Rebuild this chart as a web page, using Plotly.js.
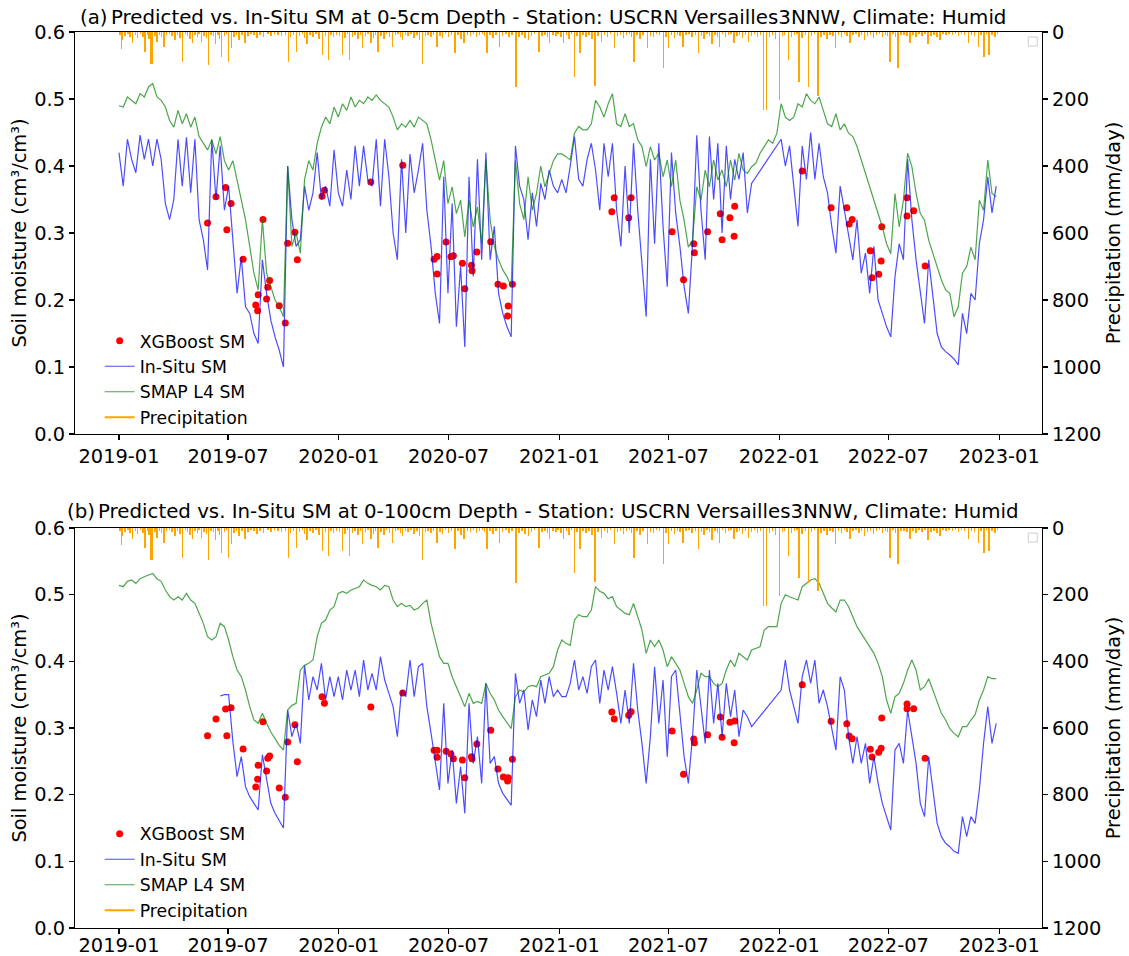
<!DOCTYPE html>
<html>
<head>
<meta charset="utf-8">
<script src="https://cdn.plot.ly/plotly-3.0.1.min.js"></script>
<style>html,body{margin:0;padding:0;background:#fff;}#chart{width:1129px;height:956px;}</style>
</head>
<body>
<div id="chart"></div>
<script>
// ---------- DATA ----------
// weekly samples starting 2019-01-01 (index i -> 2019-01-01 + 7*i days)
const startDate = '2019-01-01';
const stepDays = 7;

const topInSitu = [
0.42,0.37,0.44,0.41,0.39,0.446,0.41,0.44,0.40,0.44,
0.41,0.344,0.32,0.35,0.44,0.37,0.443,0.36,0.44,0.32,
0.29,0.245,0.44,0.35,0.43,0.334,0.37,0.284,0.21,0.264,
0.19,0.18,0.15,0.135,0.26,0.21,0.17,0.145,0.125,0.10,
0.40,0.32,0.28,0.29,0.37,0.334,0.36,0.42,0.35,0.37,
0.34,0.424,0.36,0.34,0.394,0.35,0.43,0.37,0.43,0.379,
0.37,0.44,0.34,0.44,0.384,0.30,0.26,0.41,0.30,0.418,
0.36,0.394,0.434,0.334,0.28,0.21,0.165,0.384,0.21,0.344,
0.16,0.25,0.13,0.384,0.235,0.41,0.26,0.42,0.26,0.31,
0.21,0.18,0.16,0.145,0.43,0.37,0.35,0.29,0.36,0.31,
0.374,0.35,0.394,0.37,0.36,0.38,0.36,0.40,0.444,0.38,
0.37,0.41,0.434,0.394,0.334,0.434,0.384,0.434,0.334,0.28,
0.40,0.30,0.434,0.334,0.26,0.175,0.41,0.284,0.434,0.31,
0.22,0.42,0.33,0.28,0.22,0.18,0.284,0.446,0.334,0.26,
0.444,0.35,0.434,0.30,0.43,0.35,0.41,0.38,0.42,0.33,
0.374,null,null,null,null,null,null,0.44,0.40,0.43,
0.37,0.31,0.43,0.38,0.45,0.38,0.434,0.384,0.36,0.31,
0.27,0.37,0.334,0.30,0.26,0.32,0.24,0.27,0.21,0.28,
0.20,0.18,0.16,0.145,0.235,0.284,0.26,0.41,0.32,0.26,
0.21,0.165,0.26,0.20,0.15,0.13,0.123,0.118,0.112,0.103,
0.18,0.15,0.21,0.20,0.284,0.32,0.384,0.33,0.37
];

const topSMAP = [
0.49,0.488,0.503,0.498,0.493,0.508,0.503,0.518,0.523,0.503,
0.498,0.488,0.468,0.458,0.483,0.463,0.478,0.458,0.473,0.444,
0.434,0.424,0.439,0.418,0.444,0.408,0.394,0.408,0.379,0.349,
0.32,0.28,0.24,0.215,0.32,0.24,0.22,0.20,0.19,0.175,
0.40,0.28,0.30,0.27,0.38,0.408,0.394,0.434,0.458,0.473,
0.463,0.488,0.473,0.493,0.483,0.503,0.488,0.498,0.493,0.503,
0.498,0.506,0.498,0.493,0.488,0.473,0.454,0.463,0.458,0.468,
0.458,0.473,0.468,0.463,0.439,0.408,0.379,0.408,0.344,0.369,
0.329,0.349,0.294,0.349,0.309,0.339,0.284,0.408,0.32,0.28,
0.26,0.245,0.235,0.22,0.408,0.344,0.32,0.384,0.334,0.359,
0.40,0.369,0.389,0.408,0.418,0.418,0.414,0.409,0.449,0.459,
0.454,0.454,0.463,0.498,0.488,0.473,0.493,0.508,0.463,0.459,
0.478,0.459,0.463,0.439,0.429,0.399,0.429,0.409,0.419,0.384,
0.409,0.369,0.409,0.349,0.319,0.279,0.289,0.369,0.349,0.394,
0.369,0.409,0.379,0.394,0.369,0.409,0.379,0.419,0.394,0.389,
0.399,0.404,0.419,0.429,0.439,0.434,0.449,0.493,0.473,0.468,
0.473,0.493,0.488,0.508,0.498,0.493,0.503,0.483,0.463,0.459,
0.478,0.454,0.463,0.449,0.444,0.429,0.409,0.389,0.369,0.349,
0.329,0.309,0.284,0.269,0.359,0.309,0.349,0.419,0.399,0.359,
0.329,0.319,0.289,0.269,0.25,0.23,0.215,0.21,0.175,0.19,
0.24,0.25,0.279,0.26,0.349,0.334,0.409,0.359,0.354
];

const bottomInSitu = [
null,null,null,null,null,null,null,null,null,null,
null,null,null,null,null,null,null,null,null,null,
null,null,null,null,0.348,0.35,0.35,0.28,0.227,0.257,
0.212,0.197,0.187,0.177,0.26,0.222,0.187,0.172,0.162,0.15,
0.327,0.287,0.307,0.277,0.394,0.342,0.377,0.357,0.397,0.342,
0.377,0.347,0.377,0.342,0.387,0.357,0.387,0.347,0.402,0.357,
0.382,0.357,0.407,0.372,0.352,0.332,0.287,0.357,0.347,0.402,
0.347,0.392,0.397,0.332,0.292,0.247,0.207,0.337,0.217,0.267,
0.187,0.242,0.172,0.337,0.247,0.287,0.217,0.367,0.247,0.257,
0.217,0.202,0.192,0.184,0.382,0.337,0.357,0.297,0.342,0.317,
0.372,0.337,0.377,0.347,0.357,0.347,0.347,0.367,0.402,0.357,
0.377,0.352,0.392,0.402,0.337,0.387,0.357,0.392,0.352,0.307,
0.357,0.307,0.397,0.327,0.277,0.217,0.287,0.392,0.307,0.372,
0.257,0.377,0.387,0.327,0.257,0.217,0.287,0.387,0.327,0.277,
0.387,0.307,0.367,0.287,0.367,0.317,0.357,0.287,0.327,0.317,
0.302,null,null,null,null,null,null,0.357,0.402,0.357,
0.332,0.307,0.377,0.402,0.367,0.402,0.337,0.357,0.332,0.297,
0.267,0.377,0.357,0.287,0.247,0.287,0.247,0.277,0.217,0.257,
0.217,0.187,0.167,0.147,0.267,0.277,0.247,0.327,0.287,0.247,
0.187,0.167,0.257,0.207,0.157,0.137,0.127,0.122,0.115,0.112,
0.167,0.137,0.167,0.157,0.207,0.277,0.332,0.277,0.307
];

const bottomSMAP = [
0.514,0.512,0.52,0.522,0.517,0.524,0.527,0.53,0.532,0.524,
0.52,0.507,0.497,0.492,0.497,0.492,0.502,0.492,0.487,0.472,
0.457,0.437,0.432,0.437,0.457,0.452,0.432,0.407,0.387,0.377,
0.357,0.332,0.312,0.307,0.322,0.307,0.294,0.284,0.274,0.267,
0.327,0.334,0.337,0.387,0.394,0.397,0.402,0.437,0.457,0.462,
0.477,0.482,0.502,0.505,0.502,0.507,0.51,0.512,0.522,0.517,
0.514,0.512,0.507,0.514,0.512,0.492,0.482,0.487,0.482,0.484,
0.477,0.48,0.487,0.492,0.457,0.432,0.407,0.397,0.397,0.377,
0.362,0.347,0.332,0.352,0.337,0.34,0.337,0.367,0.352,0.342,
0.327,0.317,0.307,0.299,0.347,0.357,0.354,0.362,0.364,0.362,
0.377,0.38,0.382,0.392,0.417,0.432,0.427,0.424,0.462,0.47,
0.467,0.467,0.477,0.512,0.505,0.502,0.494,0.497,0.482,0.477,
0.472,0.47,0.487,0.467,0.447,0.412,0.432,0.422,0.432,0.417,
0.392,0.407,0.397,0.387,0.367,0.347,0.337,0.357,0.382,0.377,
0.377,0.367,0.362,0.367,0.387,0.402,0.392,0.412,0.407,0.402,
0.417,0.42,0.422,0.447,0.452,0.452,0.452,0.487,0.5,0.497,
0.494,0.492,0.512,0.517,0.522,0.524,0.517,0.502,0.487,0.48,
0.474,0.492,0.492,0.482,0.467,0.452,0.442,0.432,0.422,0.412,
0.397,0.377,0.342,0.322,0.347,0.352,0.367,0.387,0.402,0.387,
0.357,0.362,0.374,0.357,0.337,0.322,0.312,0.299,0.292,0.287,
0.302,0.302,0.312,0.32,0.342,0.357,0.377,0.374,0.374
];

// XGBoost prediction dates (days after 2019-01-01) and values
const xgbDay = [147,161,177,179,186,206,239,231,227,230,245,247,250,266,276,280,292,296,337,341,
418,471,523,528,528,543,551,555,570,574,585,586,594,617,629,638,646,645,653,
822,818,850,846,918,937,954,955,977,998,1001,1014,1021,1022,1134,1182,1208,1212,1217,
1247,1250,1261,1265,1266,1308,1308,1319,1338];
const xgbTop = [0.315,0.354,0.368,0.305,0.344,0.261,0.320,0.208,0.1925,0.184,
0.2015,0.219,0.229,0.1915,0.1657,0.2846,0.301,0.26,0.355,0.364,
0.376,0.401,0.261,0.265,0.239,0.2866,0.2647,0.266,0.255,0.217,
0.252,0.2437,0.2716,0.287,0.2234,0.221,0.191,0.176,0.2234,0.3527,
0.3318,0.3527,0.3228,0.302,0.2303,0.284,0.2706,0.302,0.3288,0.29,
0.3228,0.295,0.340,0.3925,0.3378,0.3378,0.3134,0.320,0.2736,0.2333,
0.2383,0.2582,0.3094,0.3527,0.3254,0.3333,0.2507];
const xgbBottom = [0.2885,0.3135,0.3285,0.2885,0.3305,0.2685,0.3095,0.244,0.2115,0.223,
0.2355,0.2545,0.258,0.21,0.196,0.279,0.305,0.2495,0.347,0.337,
0.3315,0.3525,0.2665,0.2665,0.256,0.265,0.261,0.254,0.252,0.2255,
0.257,0.254,0.276,0.2965,0.2385,0.2265,0.2255,0.2205,0.253,0.3135,
0.324,0.3245,0.319,0.2955,0.2305,0.2835,0.278,0.29,0.3165,0.286,
0.3085,0.278,0.3105,0.365,0.31,0.3065,0.288,0.284,0.268,0.2565,
0.2635,0.2695,0.315,0.336,0.329,0.329,0.2545];

// precipitation events (days after 2019-01-01, mm/day)
const rainDay = [4,6,22,43,53,56,63,75,93,105,122,137,149,160,170,182,187,209,229,281,295,312,338,348,371,383,404,418,430,454,471,504,528,558,573,611,632,659,680,697,715,738,756,765,790,801,822,855,877,904,912,936,962,984,997,1021,1045,1070,1075,1096,1111,1129,1144,1160,1189,1213,1237,1280,1293,1313,1343,1363,1410,1427,1436,1444,1454,
2,10,15,18,27,31,36,40,47,50,60,67,71,79,84,88,97,101,110,114,118,126,130,133,141,145,153,157,164,167,175,178,191,195,199,204,214,219,224,234,240,247,252,258,264,270,276,285,290,300,305,308,317,322,327,332,343,352,356,361,
366,375,379,388,392,397,401,409,413,422,426,435,440,444,449,459,463,467,476,480,485,490,495,499,509,513,518,522,533,537,542,547,552,563,568,578,583,588,593,598,603,607,616,621,626,637,642,647,652,664,669,674,685,690,702,707,711,720,725,729,
734,743,747,751,760,770,775,780,785,795,806,811,816,827,832,837,842,847,851,860,865,870,882,887,892,897,908,917,922,927,931,941,946,951,957,967,971,976,980,989,993,1002,1007,1012,1016,1026,1030,1035,1040,1050,1055,1060,1065,1080,1085,1090,
1101,1105,1116,1121,1125,1134,1139,1149,1154,1165,1170,1175,1180,1185,1194,1199,1204,1208,1218,1223,1228,1232,1242,1247,1252,1257,1262,1267,1272,1276,1285,1289,1298,1303,1308,1318,1323,1328,1333,1338,1348,1353,1358,1368,1373,1378,1383,1388,1393,1398,1403,1415,1420,1431,1440,1449,1458];
const rainMM = [51,24,33,59,95,95,30,44,24,89,33,30,97,37,74,89,48,33,18,89,59,37,69,84,69,84,48,33,59,44,24,95,44,64,33,64,44,164,24,59,33,33,134,64,161,30,49,89,48,108,48,44,64,37,44,33,30,233,233,203,84,150,165,190,49,33,24,89,108,33,37,24,33,44,74,69,15,
8,12,6,15,10,18,7,14,9,20,12,8,16,10,6,13,9,17,7,12,20,10,14,6,11,18,9,13,8,22,12,7,15,10,25,8,12,6,10,9,14,7,11,5,9,13,8,15,10,12,7,18,9,14,6,20,11,8,15,9,
12,18,7,14,10,22,8,13,6,17,9,12,20,7,15,10,6,16,9,13,7,18,10,25,12,8,15,9,11,17,7,14,10,9,20,8,12,6,15,10,7,13,9,18,8,12,7,15,10,14,8,19,11,7,13,9,16,8,12,6,
14,9,20,7,13,10,16,8,22,12,9,15,7,12,8,18,10,6,14,9,20,8,12,16,7,10,14,9,18,8,13,10,6,15,8,12,20,7,11,9,14,7,16,10,6,13,8,18,9,12,7,15,10,14,9,20,
12,8,15,10,6,18,9,12,7,14,10,20,8,13,9,16,7,12,10,6,15,9,13,8,18,10,6,14,9,12,7,15,10,8,13,9,16,7,11,6,12,8,14,7,10,5,9,6,12,7,10,8,12,9,6,10,5];

// ---------- helpers ----------
const DAY = 86400000;
const base = Date.parse(startDate + 'T00:00:00Z');
const toDate = d => new Date(base + d * DAY).toISOString().slice(0, 10);
const weekX = topInSitu.map((_, i) => toDate(i * stepDays));
const xgbX = xgbDay.map(toDate);
const rainX = rainDay.map(toDate);

const FONT = 'DejaVu Sans, Liberation Sans, sans-serif';
const BLUE = 'rgba(0,0,255,0.7)';
const GREEN = 'rgba(0,128,0,0.7)';
const ORANGE = 'rgb(255,165,0)';

function panel(xa, ya, ya2, leg, xgbVals, insitu, smap) {
  return [
    {type:'scatter', mode:'markers', x:xgbX, y:xgbVals, xaxis:xa, yaxis:ya, name:'XGBoost SM',
     marker:{color:'red', size:7}, legend:leg},
    {type:'scatter', mode:'lines', x:weekX, y:insitu, xaxis:xa, yaxis:ya, name:'In-Situ SM',
     line:{color:BLUE, width:1.2}, connectgaps:true, legend:leg},
    {type:'scatter', mode:'lines', x:weekX, y:smap, xaxis:xa, yaxis:ya, name:'SMAP L4 SM',
     line:{color:GREEN, width:1.2}, legend:leg},
    {type:'scatter', mode:'lines', x:[null], y:[null], xaxis:xa, yaxis:ya, name:'Precipitation',
     line:{color:ORANGE, width:2}, legend:leg},
    {type:'bar', x:rainX, y:rainMM, xaxis:xa, yaxis:ya2, showlegend:false,
     marker:{color:ORANGE, line:{width:0}}, width:2.4*DAY}
  ];
}

const data = [].concat(
  panel('x','y','y2','legend', xgbTop, topInSitu, topSMAP),
  panel('x2','y3','y4','legend2', xgbBottom, bottomInSitu, bottomSMAP)
);

const tickFont = {family:FONT, size:19.4, color:'black'};
const xCommon = {
  type:'date', range:['2018-10-20','2023-03-13'], tick0:'2019-01-01', dtick:'M6', tickformat:'%Y-%m',
  showline:true, mirror:true, linecolor:'black', linewidth:1.1, ticks:'outside', ticklen:5,
  tickwidth:1.1, tickcolor:'black', showgrid:false, zeroline:false, tickfont:tickFont, automargin:false
};
const yLeft = (dom, anchor) => ({
  domain:dom, anchor:anchor, range:[0,0.6], dtick:0.1, tick0:0, tickformat:'.1f',
  showline:true, linecolor:'black', linewidth:1.1, ticks:'outside', ticklen:5, tickwidth:1.1,
  tickcolor:'black', showgrid:false, zeroline:false, tickfont:tickFont, automargin:false,
  title:{text:'Soil moisture (cm³/cm³)', font:tickFont, standoff:2}
});
const yRight = (over, anchor) => ({
  overlaying:over, anchor:anchor, side:'right', range:[1200,0], dtick:200, tick0:0,
  showline:true, linecolor:'black', linewidth:1.1, ticks:'outside', ticklen:5, tickwidth:1.1,
  tickcolor:'black', showgrid:false, zeroline:false, tickfont:tickFont, automargin:false,
  title:{text:'Precipitation (mm/day)', font:tickFont, standoff:6}
});

const titleFont = {family:FONT, size:19.8, color:'black'};
const legFont = {family:FONT, size:17.3, color:'black'};

const layout = {
  width:1129, height:956,
  margin:{l:75.3, r:87.3, t:32, b:28},
  paper_bgcolor:'white', plot_bgcolor:'white',
  font:{family:FONT, color:'black'},
  bargap:0,
  xaxis:Object.assign({anchor:'y', domain:[0,1]}, xCommon),
  xaxis2:Object.assign({anchor:'y3', domain:[0,1], ticklabelstandoff:-5}, xCommon),
  yaxis:yLeft([0.5513,1],'x'),
  yaxis2:yRight('y','x'),
  yaxis3:yLeft([0,0.4464],'x2'),
  yaxis4:yRight('y3','x2'),
  legend:{x:0.0255, y:0.6752, xanchor:'left', yanchor:'top', bgcolor:'rgba(0,0,0,0)',
          font:legFont, itemwidth:30, tracegroupgap:0},
  legend2:{x:0.0255, y:0.125, xanchor:'left', yanchor:'top', bgcolor:'rgba(0,0,0,0)',
          font:legFont, itemwidth:30, tracegroupgap:0},
  annotations:[
    {text:'Predicted vs. In-Situ SM at 0-5cm Depth - Station: USCRN Versailles3NNW, Climate: Humid',
     xref:'paper', yref:'paper', x:0.5, y:1.0167, xanchor:'center', yanchor:'middle', showarrow:false, font:titleFont},
    {text:'(a)', xref:'paper', yref:'paper', x:0.0193, y:1.0167, xanchor:'center', yanchor:'middle', showarrow:false, font:titleFont},
    {text:'Predicted vs. In-Situ SM at 0-100cm Depth - Station: USCRN Versailles3NNW, Climate: Humid',
     xref:'paper', yref:'paper', x:0.5, y:0.4654, xanchor:'center', yanchor:'middle', showarrow:false, font:titleFont},
    {text:'(b)', xref:'paper', yref:'paper', x:0.0059, y:0.4654, xanchor:'center', yanchor:'middle', showarrow:false, font:titleFont}
  ],
  shapes:[
    {type:'rect', xref:'paper', yref:'paper', x0:0.9858, x1:0.9951, y0:0.9844, y1:0.9944,
     line:{color:'#cccccc', width:1}, fillcolor:'white'},
    {type:'rect', xref:'paper', yref:'paper', x0:0.9858, x1:0.9951, y0:0.4308, y1:0.4408,
     line:{color:'#cccccc', width:1}, fillcolor:'white'}
  ]
};

Plotly.newPlot('chart', data, layout, {staticPlot:true, displayModeBar:false});
</script>
</body>
</html>
